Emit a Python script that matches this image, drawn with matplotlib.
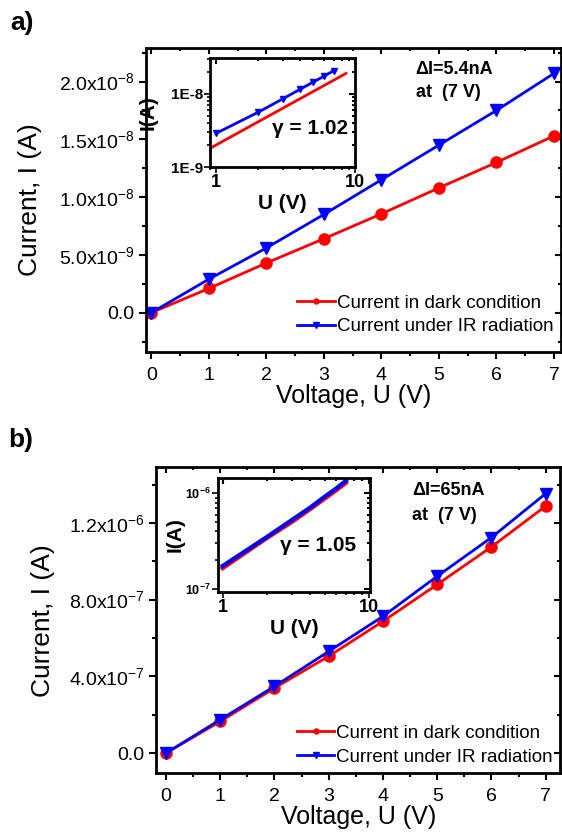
import matplotlib
matplotlib.use("Agg")
import matplotlib.pyplot as plt
from matplotlib.ticker import MultipleLocator, NullFormatter

plt.rcParams["font.family"] = ["Liberation Sans", "DejaVu Sans"]
plt.rcParams["mathtext.fontset"] = "custom"
plt.rcParams["mathtext.rm"] = "Liberation Sans"
plt.rcParams["mathtext.default"] = "regular"

# data
VOLTAGE = [0, 1, 2, 3, 4, 5, 6, 7]

# panel a (A)
DARK_A = [0.0, 2.1e-9, 4.3e-9, 6.4e-9, 8.55e-9, 10.8e-9, 13.0e-9, 15.3e-9]
IR_A = [0.0, 2.9e-9, 5.6e-9, 8.5e-9, 11.5e-9, 14.5e-9, 17.5e-9, 20.7e-9]
# red fit line of the inset in panel a
INSET_A_FIT_U = [0.9, 8.6]
INSET_A_FIT_I = [1.8e-9, 1.9e-8]

# panel b (A)
DARK_B = [0.0, 1.65e-7, 3.39e-7, 5.05e-7, 6.87e-7, 8.79e-7, 10.75e-7, 12.88e-7]
IR_B = [0.0, 1.74e-7, 3.48e-7, 5.30e-7, 7.13e-7, 9.22e-7, 11.24e-7, 13.53e-7]

YTICKS_A = [0.0, 5e-9, 1e-8, 1.5e-8, 2e-8]
YTICKLABELS_A = ["0.0", "5.0x10$^{-9}$", "1.0x10$^{-8}$", "1.5x10$^{-8}$", "2.0x10$^{-8}$"]
YTICKS_B = [0.0, 4e-7, 8e-7, 1.2e-6]
YTICKLABELS_B = ["0.0", "4.0x10$^{-7}$", "8.0x10$^{-7}$", "1.2x10$^{-6}$"]

LABELS = ["Current in dark condition", "Current under IR radiation"]
RED = "#ff0000"
BLUE = "#0000ff"


def mirror_ticks(ax, log=False):
    # Origin style: outward ticks bottom/left, inward ticks top/right
    top = ax.secondary_xaxis("top")
    right = ax.secondary_yaxis("right")
    top.tick_params(which="both", direction="in", labeltop=False, width=1.5)
    right.tick_params(which="both", direction="in", labelright=False, width=1.5)
    top.tick_params(which="major", length=4)
    right.tick_params(which="major", length=4)
    top.tick_params(which="minor", length=2.5)
    right.tick_params(which="minor", length=2.5)
    if not log:
        top.xaxis.set_minor_locator(MultipleLocator(0.5))
        top.set_xticks(ax.get_xticks())
        right.set_yticks(ax.get_yticks())
        right.yaxis.set_minor_locator(ax.yaxis.get_minor_locator())
    for sp in list(top.spines.values()) + list(right.spines.values()):
        sp.set_visible(False)


def main_panel(fig, rect, dark, ir, ylim, yticks, yticklabels, yminor, xlim, leg_y):
    ax = fig.add_axes(rect)
    ax.plot(VOLTAGE, dark, color=RED, lw=2, marker="o", ms=8, label=LABELS[0])
    ax.plot(VOLTAGE, ir, color=BLUE, lw=2, marker="v", ms=9, label=LABELS[1])
    ax.set_xlim(*xlim)
    ax.set_ylim(*ylim)
    ax.set_xticks(VOLTAGE)
    ax.xaxis.set_minor_locator(MultipleLocator(0.5))
    ax.set_yticks(yticks, yticklabels)
    ax.yaxis.set_minor_locator(MultipleLocator(yminor))
    ax.tick_params(which="both", direction="out", width=1.5, labelsize=14)
    ax.tick_params(axis="x", pad=6)
    ax.tick_params(which="major", length=5)
    ax.tick_params(which="minor", length=3)
    for sp in ax.spines.values():
        sp.set_linewidth(2)
    ax.set_xlabel("Voltage, U (V)", fontsize=18, labelpad=0)
    ax.set_ylabel("Current, I (A)", fontsize=19)
    ax.yaxis.set_label_coords(-0.25, 0.5)
    ax.legend(loc="lower right", bbox_to_anchor=(1.0, leg_y), frameon=False,
              fontsize=13.5, markerscale=0.45, handlelength=2.0,
              handletextpad=0.1, labelspacing=0.35, borderaxespad=0)
    mirror_ticks(ax)
    return ax


def inset_panel(fig, rect, xlim, ylim, yticks, yticklabels, ylabelsize,
                gamma, gamma_pos, ylabel_x):
    ax = fig.add_axes(rect)
    ax.set_xscale("log")
    ax.set_yscale("log")
    ax.set_xlim(*xlim)
    ax.set_ylim(*ylim)
    ax.set_xticks([1, 10], ["1", "10"])
    ax.xaxis.set_minor_formatter(NullFormatter())
    ax.set_yticks(yticks, yticklabels)
    ax.yaxis.set_minor_formatter(NullFormatter())
    ax.tick_params(which="both", direction="out", width=1.2)
    ax.tick_params(axis="x", labelsize=13, pad=1)
    ax.tick_params(axis="y", labelsize=ylabelsize, pad=1)
    ax.tick_params(which="major", length=4)
    ax.tick_params(which="minor", length=2)
    for lab in ax.get_xticklabels() + ax.get_yticklabels():
        lab.set_fontweight("bold")
    for sp in ax.spines.values():
        sp.set_linewidth(2)
    ax.set_xlabel("U (V)", fontsize=15, fontweight="bold", labelpad=2)
    ax.set_ylabel("I(A)", fontsize=15, fontweight="bold")
    ax.yaxis.set_label_coords(ylabel_x, 0.5)
    ax.text(gamma_pos[0], gamma_pos[1], gamma, transform=ax.transAxes,
            ha="right", va="center", fontsize=15, fontweight="bold")
    mirror_ticks(ax, log=True)
    return ax


fig = plt.figure(figsize=(5.62, 8.33), dpi=100)

# panel a
ax_a = main_panel(fig, [0.260, 0.5774, 0.738, 0.365], DARK_A, IR_A,
                  (-3.4e-9, 2.29e-8), YTICKS_A, YTICKLABELS_A, 2.5e-9,
                  (-0.09, 7.12), 0.03)
ax_a.text(0.65, 0.928, "\u0394I=5.4nA", transform=ax_a.transAxes, fontsize=13,
          fontweight="bold", va="center")
ax_a.text(0.65, 0.852, "at  (7 V)", transform=ax_a.transAxes, fontsize=13,
          fontweight="bold", va="center")
fig.text(0.018, 0.972, "a)", fontsize=19, fontweight="bold", va="center")

ins_a = inset_panel(fig, [0.3737, 0.7995, 0.258, 0.131], (0.9, 10),
                    (1e-9, 3.1e-8), [1e-9, 1e-8], ["1E-9", "1E-8"], 11,
                    "\u03b3 = 1.02", (0.95, 0.35), -0.36)
ins_a.plot(INSET_A_FIT_U, INSET_A_FIT_I, color=RED, lw=2)
ins_a.plot(VOLTAGE[1:], IR_A[1:], color=BLUE, lw=2, marker="v", ms=4)

# panel b
ax_b = main_panel(fig, [0.278, 0.072, 0.719, 0.367], DARK_B, IR_B,
                  (-1.04e-7, 1.49e-6), YTICKS_B, YTICKLABELS_B, 2e-7,
                  (-0.18, 7.27), 0.0)
ax_b.text(0.634, 0.925, "\u0394I=65nA", transform=ax_b.transAxes, fontsize=13,
          fontweight="bold", va="center")
ax_b.text(0.634, 0.843, "at  (7 V)", transform=ax_b.transAxes, fontsize=13,
          fontweight="bold", va="center")
fig.text(0.015, 0.472, "b)", fontsize=19, fontweight="bold", va="center")

ins_b = inset_panel(fig, [0.388, 0.2893, 0.270, 0.137], (0.93, 10.2),
                    (0.93e-7, 1.45e-6), [1e-7, 1e-6], ["10$^{-7}$", "10$^{-6}$"], 9,
                    "\u03b3 = 1.05", (0.91, 0.41), -0.22)
ins_b.plot(VOLTAGE[1:], DARK_B[1:], color=RED, lw=3)
ins_b.plot(VOLTAGE[1:], IR_B[1:], color=BLUE, lw=3)

fig.savefig("out.png", dpi=100)
